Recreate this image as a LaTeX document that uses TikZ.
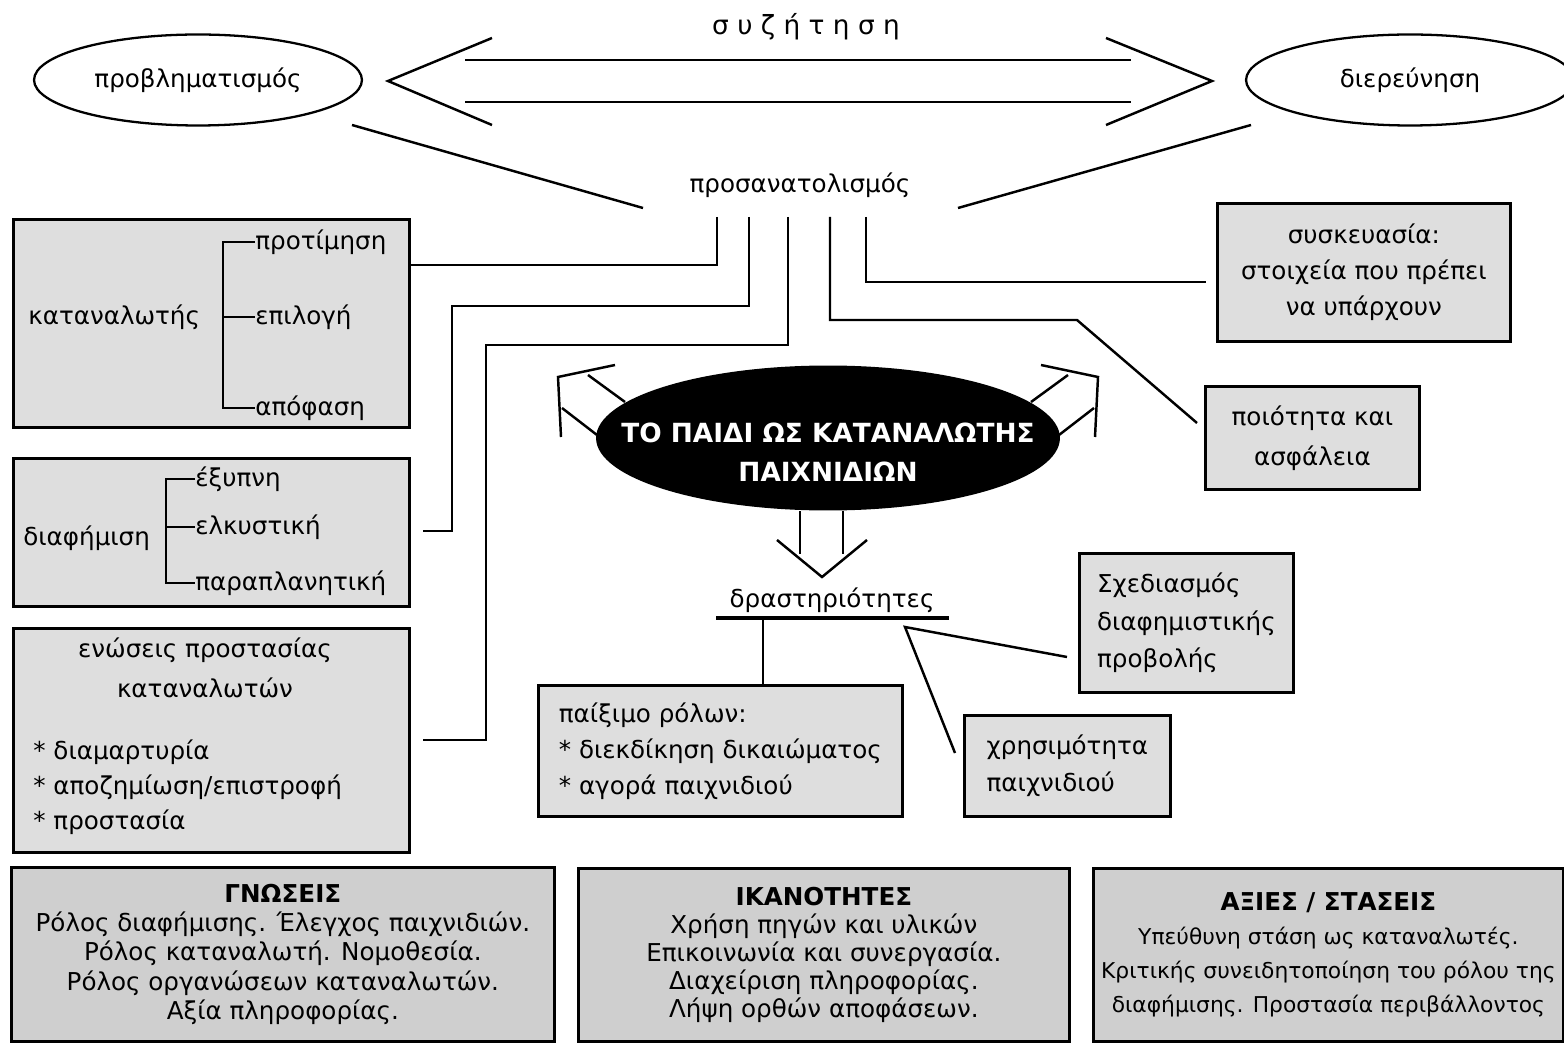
\documentclass[tikz,border=0pt]{standalone}
\usepackage{fontspec}
\setmainfont{DejaVu Sans}
\usetikzlibrary{shapes.geometric}

\definecolor{boxgray}{gray}{0.87}
\definecolor{lowgray}{gray}{0.81}

\tikzset{
	box/.style={draw, line width=1.6pt, fill=boxgray, inner sep=0pt, anchor=north west},
	lowbox/.style={box, fill=lowgray, align=center},
	oval/.style={ellipse, draw, line width=1.3pt, inner sep=0pt, font=\fontsize{14}{17}\selectfont},
	wire/.style={line width=1.4pt},
	txt/.style={inner sep=0pt, font=\fontsize{14}{17}\selectfont},
}

\begin{document}
\begin{tikzpicture}[x=0.02cm, y=-0.02cm]
\useasboundingbox (0,0) rectangle (1564,1043);

	%% Kopfzeile
\node[txt, font=\fontsize{15}{17}\selectfont] (talk) at (806,27) {σ υ ζ ή τ η σ η};
\node[oval, minimum width=6.56cm, minimum height=1.82cm] (probl) at (198,80) {προβληματισμός};
\node[oval, minimum width=6.56cm, minimum height=1.82cm] (dier) at (1410,80) {διερεύνηση};
\node[txt] (orient) at (800,185) {προσανατολισμός};

	%% Doppelpfeil
\draw[wire] (492,38) -- (388,81) -- (492,125);
\draw[wire] (465,60) -- (1131,60);
\draw[wire] (465,102) -- (1131,102);
\draw[wire] (1106,38) -- (1212,81) -- (1106,125);

\coordinate (pl) at (352,125);
\coordinate (pr) at (1251,125);
\coordinate (ol) at (643,208);
\coordinate (or) at (958,208);
\draw[wire] (pl) -- (ol);
\draw[wire] (pr) -- (or);
	%%%%%%%%%%%%%%%%

	%% Kästen links
\node[box, minimum width=7.92cm, minimum height=4.16cm] (kat) at (12,218) {};
\node[txt, anchor=west] (katname) at (28,317) {καταναλωτής};
\node[txt, anchor=west] (k1) at (255,242) {προτίμηση};
\node[txt, anchor=west] (k2) at (255,317) {επιλογή};
\node[txt, anchor=west] (k3) at (255,408) {απόφαση};
\draw[wire] (k1.west) -- ++(-32,0) |- (k3.west);
\draw[wire] (k2.west) -- ++(-32,0);

\node[box, minimum width=7.92cm, minimum height=2.96cm] (diaf) at (12,457) {};
\node[txt, anchor=west] (diafname) at (23,538) {διαφήμιση};
\node[txt, anchor=west] (d1) at (195,479) {έξυπνη};
\node[txt, anchor=west] (d2) at (195,527) {ελκυστική};
\node[txt, anchor=west] (d3) at (195,583) {παραπλανητική};
\draw[wire] (d1.west) -- ++(-29,0) |- (d3.west);
\draw[wire] (d2.west) -- ++(-29,0);

\node[box, minimum width=7.92cm, minimum height=4.48cm] (enos) at (12,627) {};
\node[txt] (e1) at (205,650) {ενώσεις προστασίας};
\node[txt] (e2) at (205,688) {καταναλωτών};
\node[txt, anchor=west] (e3) at (33,752) {* διαμαρτυρία};
\node[txt, anchor=west] (e4) at (33,787) {* αποζημίωση/επιστροφή};
\node[txt, anchor=west] (e5) at (33,822) {* προστασία};

	%% Kästen rechts
\node[box, minimum width=5.86cm, minimum height=2.76cm, align=center,
	font=\fontsize{14}{20.4}\selectfont] (sysk) at (1216,202) {συσκευασία:\\στοιχεία που πρέπει\\να υπάρχουν};
\node[box, minimum width=4.28cm, minimum height=2.06cm, align=center,
	font=\fontsize{14}{22.7}\selectfont] (poiot) at (1204,385) {ποιότητα και\\ασφάλεια};

	%% Verbindungen von oben
\coordinate (o1) at (717,217);
\coordinate (o2) at (749,217);
\coordinate (o3) at (788,217);
\coordinate (o4) at (830,217);
\coordinate (o5) at (866,217);
\draw[wire] (o1) |- (kat.east |- 0,265) -- ++(9,0);
\draw[wire] (o2) |- (452,306) |- ([xshift=0.24cm]diaf.east |- 0,531);
\draw[wire] (o3) |- (486,345) |- ([xshift=0.24cm]enos.east |- 0,740);
\draw[wire] (o5) |- ([xshift=-0.2cm]sysk.west |- 0,282);
\draw[wire] (o4) |- (1077,320) -- ([xshift=-0.14cm]poiot.west |- 0,423);
	%%%%%%%%%%%%%%%%

	%% Mitte
\node[ellipse, fill=black, minimum width=9.28cm, minimum height=2.9cm] (child) at (828,438) {};
\node[txt, text=white, align=center, font=\fontsize{15}{22}\selectfont\bfseries] (childtxt) at (828,452) {ΤΟ ΠΑΙΔΙ ΩΣ ΚΑΤΑΝΑΛΩΤΗΣ\\ΠΑΙΧΝΙΔΙΩΝ};

\draw[wire] (615,365) -- (558,377) -- (561,437);
\draw[wire] (625,402) -- (588,375);
\draw[wire] (597,435) -- (562,408);
\draw[wire] (1041,365) -- (1098,377) -- (1095,437);
\draw[wire] (1031,402) -- (1068,375);
\draw[wire] (1059,435) -- (1094,408);

\draw[wire] (child.south -| 800,0) -- (800,554);
\draw[wire] (child.south -| 843,0) -- (843,554);
\draw[wire] (777,540) -- (822,577) -- (867,540);

	%% Aktivitäten
\node[txt] (drast) at (832,600) {δραστηριότητες};
\draw[line width=1.8pt] (716,618) -- (949,618);
\coordinate (dr) at (763,618);
\coordinate (ap) at (905,627);

\node[box, minimum width=7.28cm, minimum height=2.62cm, align=left,
	font=\fontsize{14}{20.4}\selectfont] (paix) at (537,684) {παίξιμο ρόλων:\\* διεκδίκηση δικαιώματος\\* αγορά παιχνιδιού};
\node[box, minimum width=4.28cm, minimum height=2.78cm, align=left,
	font=\fontsize{14}{21.5}\selectfont] (sxed) at (1078,552) {Σχεδιασμός\\διαφημιστικής\\προβολής};
\node[box, minimum width=4.12cm, minimum height=2.02cm, align=left,
	font=\fontsize{14}{21}\selectfont] (xrisi) at (963,714) {χρησιμότητα\\παιχνιδιού};

\draw[wire] (dr) -- (dr |- paix.north);
\draw[wire] ([xshift=-0.22cm]sxed.west |- 0,657) -- (ap) -- ([xshift=-0.16cm]xrisi.west |- 0,753);
	%%%%%%%%%%%%%%%%

	%% Kästen unten
\node[lowbox, minimum width=10.86cm, minimum height=3.48cm,
	font=\fontsize{14}{16.7}\selectfont] (gnos) at (10,866) {\textbf{ΓΝΩΣΕΙΣ}\\Ρόλος διαφήμισης. Έλεγχος παιχνιδιών.\\Ρόλος καταναλωτή. Νομοθεσία.\\Ρόλος οργανώσεων καταναλωτών.\\Αξία πληροφορίας.};
\node[lowbox, minimum width=9.82cm, minimum height=3.46cm,
	font=\fontsize{14}{16}\selectfont] (ikan) at (577,867) {\textbf{ΙΚΑΝΟΤΗΤΕΣ}\\Χρήση πηγών και υλικών\\Επικοινωνία και συνεργασία.\\Διαχείριση πληροφορίας.\\Λήψη ορθών αποφάσεων.};
\node[lowbox, minimum width=9.40cm, minimum height=3.46cm,
	font=\fontsize{12.4}{19.3}\selectfont] (axies) at (1092,867) {\textbf{\fontsize{14}{19.3}\selectfont ΑΞΙΕΣ / ΣΤΑΣΕΙΣ}\\Υπεύθυνη στάση ως καταναλωτές.\\Κριτικής συνειδητοποίηση του ρόλου της\\διαφήμισης. Προστασία περιβάλλοντος};

\end{tikzpicture}
\end{document}
